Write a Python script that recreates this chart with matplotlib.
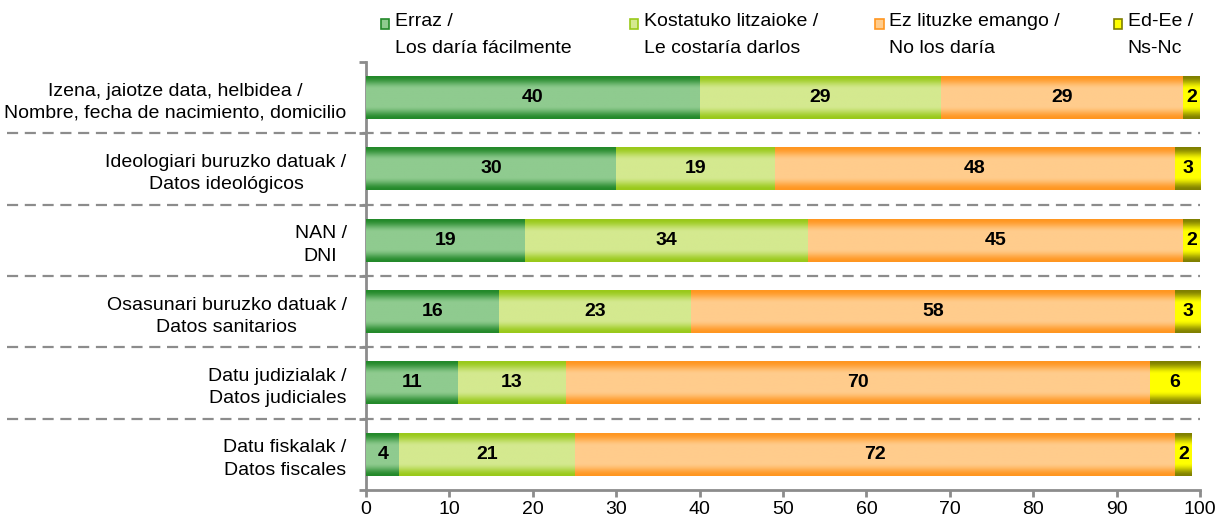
import numpy as np
import matplotlib
matplotlib.use("Agg")
import matplotlib.pyplot as plt
from matplotlib.colors import LinearSegmentedColormap
from matplotlib.patches import Rectangle

plt.rcParams["font.family"] = ["Liberation Sans", "DejaVu Sans"]

# =========================
# DATA
# =========================

categories = [
    "Izena, jaiotze data, helbidea /\nNombre, fecha de nacimiento, domicilio",
    "Ideologiari buruzko datuak /\nDatos ideológicos",
    "NAN /\nDNI",
    "Osasunari buruzko datuak /\nDatos sanitarios",
    "Datu judizialak /\nDatos judiciales",
    "Datu fiskalak /\nDatos fiscales",
]

series_names = [
    "Erraz /\nLos daría fácilmente",
    "Kostatuko litzaioke /\nLe costaría darlos",
    "Ez lituzke emango /\nNo los daría",
    "Ed-Ee /\nNs-Nc",
]

erraz = [40, 30, 19, 16, 11, 4]
kostatuko = [29, 19, 34, 23, 13, 21]
ez_emango = [29, 48, 45, 58, 70, 72]
ed_ee = [2, 3, 2, 3, 6, 2]

x_ticks = list(range(0, 101, 10))

# edge (dark) and centre (light) colours of each gradient
edge_colors = ["#23892a", "#99c91a", "#ff9620", "#7f7f00"]
center_colors = ["#8fcb8f", "#d4e98f", "#ffcc8c", "#ffff00"]

# =========================
# FIGURE
# =========================

fig = plt.figure(figsize=(12.21, 5.24), dpi=100)
ax = fig.add_axes([0.2998, 0.0649, 0.6830, 0.8168])

y = np.arange(len(categories))
values = [erraz, kostatuko, ez_emango, ed_ee]
bar_h = 0.6

# vertical gradient profile: dark at top/bottom, light in the middle
t = np.linspace(0, 1, 64)
s = 1 - np.abs(2 * t - 1)
w = np.clip(s / 0.6, 0, 1)
w = w * w * (3 - 2 * w)
grad = w.reshape(-1, 1)

left = np.zeros(len(categories))
for vals, c_edge, c_mid in zip(values, edge_colors, center_colors):
    bars = ax.barh(y, vals, left=left, height=bar_h, color=c_edge, zorder=2)
    cmap = LinearSegmentedColormap.from_list("g", [c_edge, c_mid])
    for bar, v in zip(bars, vals):
        x0 = bar.get_x()
        x1 = x0 + bar.get_width()
        y0 = bar.get_y()
        y1 = y0 + bar.get_height()
        ax.imshow(grad, extent=[x0, x1, y1, y0], cmap=cmap, vmin=0, vmax=1,
                  aspect="auto", interpolation="bilinear", zorder=3)
        ax.text((x0 + x1) / 2, (y0 + y1) / 2, str(v), ha="center", va="center",
                fontsize=14, fontweight="bold", color="black", zorder=4)
    left += np.array(vals)

ax.set_xlim(0, 100)
ax.set_ylim(len(categories) - 0.5, -0.5)

# dashed separators between rows, running into the label area
for b in np.arange(0.5, len(categories) - 0.5, 1):
    ax.axhline(b, xmin=-0.43, xmax=1.0, color="#8c8c8c", linestyle=(0, (5, 3)),
               linewidth=1.6, clip_on=False, zorder=1)

# axes styling
for side in ["top", "right"]:
    ax.spines[side].set_visible(False)
for side in ["left", "bottom"]:
    ax.spines[side].set_color("#8c8c8c")
    ax.spines[side].set_linewidth(2)

ax.set_xticks(x_ticks)
ax.set_xticklabels([str(v) for v in x_ticks], fontsize=14)
ax.tick_params(axis="x", direction="out", length=5, width=2, color="#8c8c8c", pad=3)

ax.set_yticks(y)
ax.set_yticklabels(categories, fontsize=14, multialignment="center")
for lbl in ax.get_yticklabels():
    lbl.set_linespacing(1.4)
ax.tick_params(axis="y", which="major", length=0, pad=14)
ax.set_yticks(np.arange(-0.5, len(categories), 1), minor=True)
ax.tick_params(axis="y", which="minor", direction="out", length=5, width=2,
               color="#8c8c8c")

# legend across the top
leg_x = [0.312, 0.516, 0.717, 0.912]
for name, c_edge, c_mid, lx in zip(series_names, edge_colors, center_colors, leg_x):
    fig.patches.append(Rectangle((lx, 0.944), 0.0066, 0.019, transform=fig.transFigure,
                                 facecolor=c_mid, edgecolor=c_edge, linewidth=1.2))
    fig.text(lx + 0.0115, 0.975, name, ha="left", va="top", fontsize=14,
             linespacing=1.75)

fig.savefig("out.png", dpi=100)
